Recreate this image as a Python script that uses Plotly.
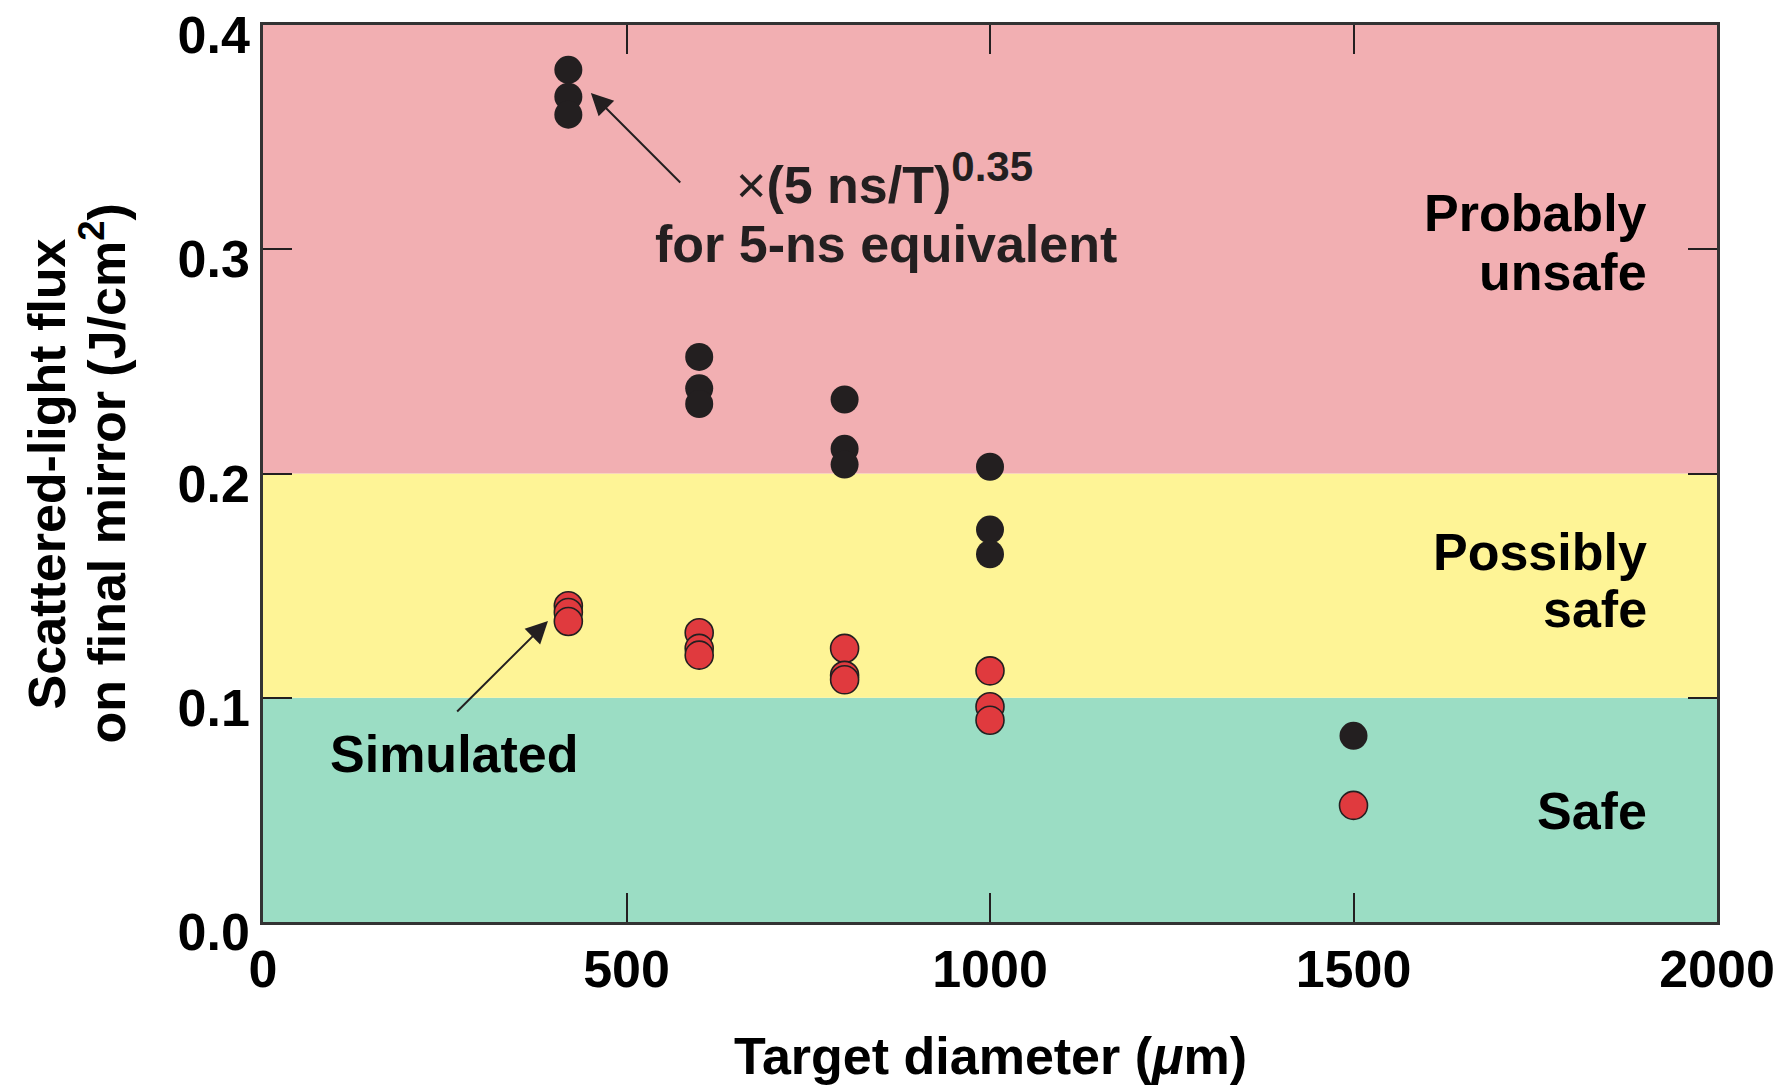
import plotly.graph_objects as go

# ---- data ----
target_diameter = [420, 420, 420, 600, 600, 600, 800, 800, 800, 1000, 1000, 1000, 1500]
flux_5ns_equiv = [0.380, 0.368, 0.360, 0.252, 0.238, 0.231, 0.233, 0.211, 0.204,
                  0.203, 0.175, 0.164, 0.083]
flux_simulated = [0.141, 0.138, 0.134, 0.129, 0.122, 0.119, 0.122, 0.110, 0.108,
                  0.112, 0.096, 0.090, 0.052]

zone_bounds = [0.0, 0.1, 0.2, 0.4]
zone_colors = ["#9BDDC4", "#FEF496", "#F2AFB2"]

x_ticks = [0, 500, 1000, 1500, 2000]
y_ticks = [0.0, 0.1, 0.2, 0.3, 0.4]

FONT = "Liberation Sans, Arial, Helvetica, sans-serif"
FS = 52
INK = "#231F20"

fig = go.Figure()

# colored zones
for i, col in enumerate(zone_colors):
    fig.add_shape(type="rect", xref="paper", yref="y", x0=0, x1=1,
                  y0=zone_bounds[i], y1=zone_bounds[i + 1],
                  fillcolor=col, line_width=0, layer="below")

fig.add_trace(go.Scatter(
    x=target_diameter, y=flux_5ns_equiv, mode="markers",
    marker=dict(size=28, color=INK, line=dict(width=0)),
    showlegend=False, name="5-ns equivalent"))

fig.add_trace(go.Scatter(
    x=target_diameter, y=flux_simulated, mode="markers",
    marker=dict(size=28, color="#E03A3E", line=dict(width=1.6, color=INK)),
    showlegend=False, name="Simulated"))

ann_font = dict(family=FONT, size=FS, color="#000000")

def label(text, x, y, xanchor="right", bold=True, color="#000000"):
    t = f"<b>{text}</b>" if bold else text
    fig.add_annotation(text=t, x=x, y=y, xref="x", yref="y",
                       xanchor=xanchor, yanchor="middle", showarrow=False,
                       font=dict(family=FONT, size=FS, color=color))

# zone labels
label("Probably", 1906, 0.3162)
label("unsafe", 1906, 0.2899)
label("Possibly", 1906, 0.1650)
label("safe", 1906, 0.1396)
label("Safe", 1906, 0.0495)

# annotation texts
label("×<b>(5 ns/T)<sup><span style=\"font-size:42px\">0.35</span></sup></b>",
      855, 0.3315, xanchor="center", bold=False, color="#231F20")
label("for 5-ns equivalent", 857, 0.3023, xanchor="center", color="#231F20")
label("Simulated", 264, 0.0749, xanchor="center")

# arrows
fig.add_annotation(x=451, y=0.3697, ax=576, ay=0.3291, xref="x", yref="y",
                   axref="x", ayref="y", text="", showarrow=True,
                   arrowhead=2, arrowsize=2.2, arrowwidth=2, arrowcolor=INK)
fig.add_annotation(x=392, y=0.1342, ax=265, ay=0.0932, xref="x", yref="y",
                   axref="x", ayref="y", text="", showarrow=True,
                   arrowhead=2, arrowsize=2.2, arrowwidth=2, arrowcolor=INK)

# axis titles as annotations
fig.add_annotation(text="<b>Target diameter (<i>μ</i>m)</b>", xref="paper", yref="paper",
                   x=0.5, y=-0.1494, xanchor="center", yanchor="middle",
                   showarrow=False, font=ann_font)
fig.add_annotation(text="<b>Scattered-light flux</b>", xref="paper", yref="paper",
                   x=-0.1486, y=0.5, xanchor="center", yanchor="middle",
                   textangle=-90, showarrow=False, font=ann_font)
fig.add_annotation(text="<b>on final mirror (J/cm<sup>2</sup>)</b>", xref="paper", yref="paper",
                   x=-0.1100, y=0.5, xanchor="center", yanchor="middle",
                   textangle=-90, showarrow=False, font=ann_font)

axis_common = dict(showgrid=False, zeroline=False, showline=True, linecolor="#333333",
                   linewidth=2.5, mirror="ticks", ticks="inside", ticklen=29,
                   tickwidth=2, tickcolor=INK, ticklabeloverflow="allow",
                   tickfont=dict(family=FONT, size=FS, color="#000000", weight="bold"))

fig.update_xaxes(range=[0, 2000], tickvals=x_ticks, ticktext=[str(v) for v in x_ticks],
                 **axis_common)
fig.update_yaxes(range=[0, 0.4], tickvals=y_ticks, ticktext=[f"{v:.1f}" for v in y_ticks],
                 ticklabelshift=10, **axis_common)

fig.update_layout(width=1785, height=1085,
                  margin=dict(l=263, r=68, t=25, b=163, autoexpand=False),
                  paper_bgcolor="white", plot_bgcolor="white",
                  font=dict(family=FONT, size=FS))

fig.write_html("out.html", config={"displayModeBar": False},
               post_script="document.body.style.margin='0';"
                           "document.body.style.overflow='hidden';")
